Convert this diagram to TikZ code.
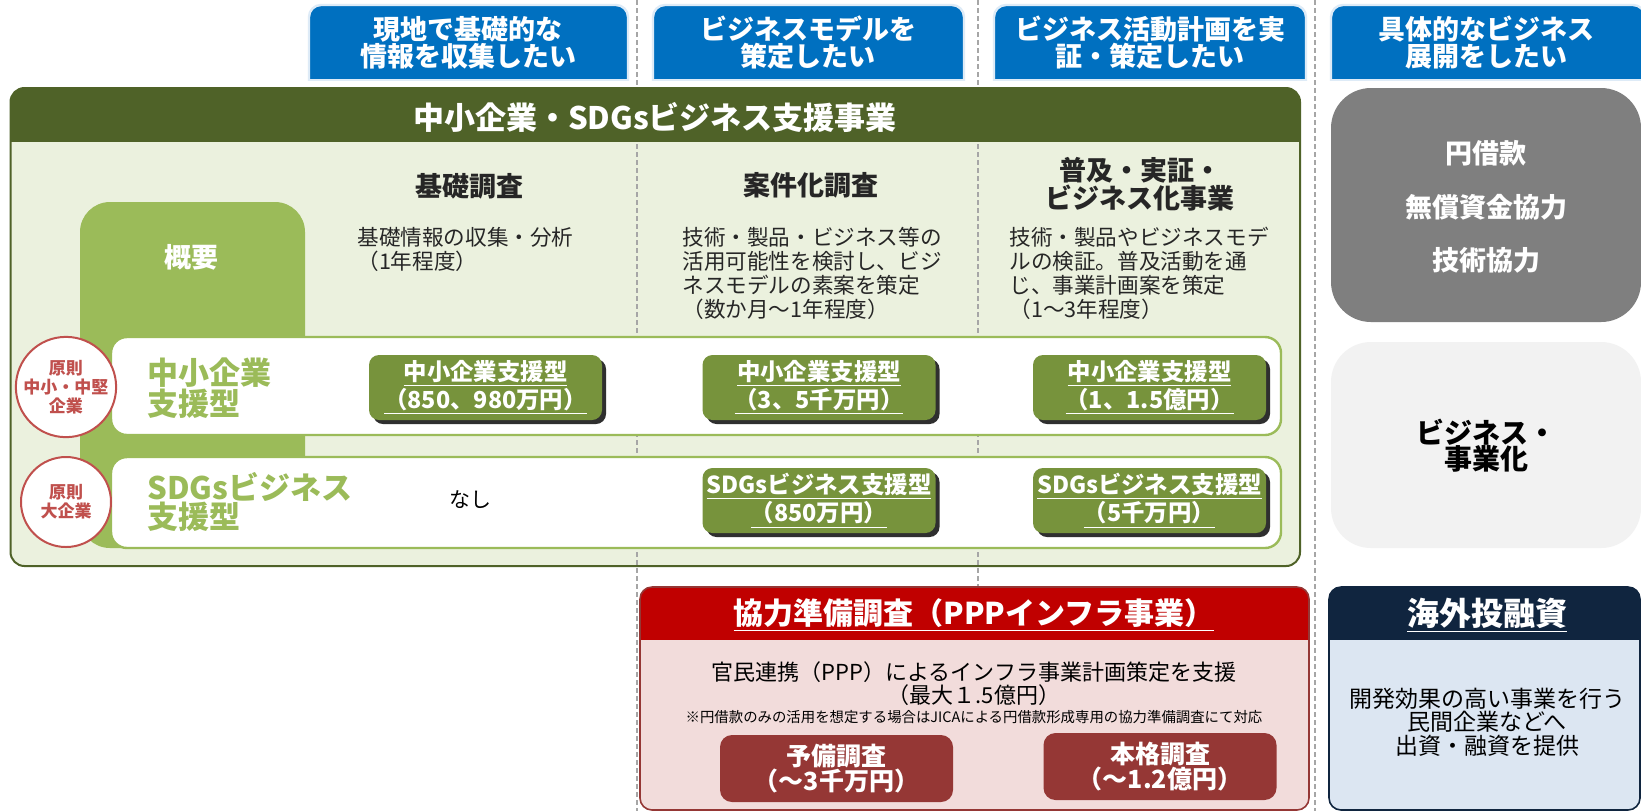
\documentclass[tikz,border=0pt]{standalone}
\usepackage{fontspec}
\setmainfont{Noto Sans CJK JP}
\usepackage{tikz}
\usetikzlibrary{shadows}

\definecolor{jicablue}{HTML}{0070C0}
\definecolor{wantline}{HTML}{DEEBF7}
\definecolor{sdghead}{HTML}{4F6228}
\definecolor{sdgbody}{HTML}{EBF1DE}
\definecolor{gaiyou}{HTML}{9BBB59}
\definecolor{btngreen}{HTML}{77933C}
\definecolor{circred}{HTML}{C0504D}
\definecolor{pppred}{HTML}{C00000}
\definecolor{ppppink}{HTML}{F2DCDB}
\definecolor{pppbox}{HTML}{953735}
\definecolor{navy}{HTML}{10253F}
\definecolor{navylight}{HTML}{DCE6F2}
\definecolor{darkgraybox}{HTML}{7F7F7F}
\definecolor{lightgraybox}{HTML}{F2F2F2}
\definecolor{headtext}{HTML}{262626}

\tikzset{
  wantbox/.style={fill=jicablue, draw=wantline, line width=1.2pt, rounded corners=6pt},
  wanttext/.style={text=white, font=\fontsize{13.5}{13.5}\selectfont\bfseries, align=center, inner sep=0pt},
  sepline/.style={draw=black!35, dash pattern=on 2.5pt off 1.5pt, line width=0.6pt},
  colhead/.style={text=headtext, font=\fontsize{13.5}{13}\selectfont\bfseries, align=center, inner sep=0pt},
  desc/.style={text=black!85, font=\fontsize{10.8}{12}\selectfont, align=left, inner sep=0pt, anchor=north west},
  typebtn/.style={fill=btngreen, rounded corners=5pt, minimum width=116.5pt, minimum height=32.5pt,
    text=white, font=\fontsize{11.7}{11.5}\selectfont\bfseries, align=center, inner sep=0pt,
    drop shadow={shadow xshift=2pt, shadow yshift=-2pt, opacity=.9, fill=black!90}},
  ruleball/.style={circle, draw=circred, line width=1pt, fill=white, minimum size=45pt, inner sep=0pt,
    text=circred, font=\fontsize{8.5}{9.5}\selectfont\bfseries, align=center},
  rowlabel/.style={text=gaiyou, font=\fontsize{15.5}{14.5}\selectfont\bfseries, align=left, inner sep=0pt, anchor=west},
  whitebold/.style={text=white, font=\fontsize{13.5}{13.5}\selectfont\bfseries, align=center, inner sep=0pt},
  pppbtn/.style={fill=pppbox, rounded corners=6pt, minimum width=116.5pt, minimum height=33.5pt,
    text=white, font=\fontsize{12.5}{12.5}\selectfont\bfseries, align=center, inner sep=0pt}
}

\begin{document}
\begin{tikzpicture}[x=0.5pt, y=-0.5pt]
  \useasboundingbox (0,0) rectangle (1641,811);
  \fill[white] (0,0) rectangle (1641,811);

  % SDGs main panel
  \begin{scope}
    \clip[rounded corners=7pt] (10.5,88) rectangle (1300,566);
    \fill[sdgbody] (10.5,88) rectangle (1300,566);
  \end{scope}

  \draw[sepline] (637,0) -- (637,811);
  \draw[sepline] (978,0) -- (978,587);
  \draw[sepline] (1315,0) -- (1315,811);

  \begin{scope}
    \clip[rounded corners=7pt] (10.5,88) rectangle (1300,566);
    \fill[sdghead] (10.5,88) rectangle (1300,142);
  \end{scope}
  \draw[sdghead, line width=1pt, rounded corners=7pt] (10.5,88) rectangle (1300,566);
  \node[whitebold, font=\fontsize{15.5}{15.5}\selectfont\bfseries] (sdgtitle) at (655,117) {中小企業・SDGsビジネス支援事業};

  % wants
  \begin{scope}
    \clip (0,0) rectangle (1641,80);
    \draw[wantbox] (309,5) rectangle (628,110);
    \draw[wantbox] (653,5) rectangle (964,110);
    \draw[wantbox] (994,5) rectangle (1306,110);
    \draw[wantbox] (1331,5) rectangle (1645,110);
  \end{scope}
  \draw[wantline, line width=1.2pt] (309,80) -- (628,80);
  \draw[wantline, line width=1.2pt] (653,80) -- (964,80);
  \draw[wantline, line width=1.2pt] (994,80) -- (1306,80);
  \draw[wantline, line width=1.2pt] (1331,80) -- (1641,80);
  \node[wanttext] (want1) at (468,43) {現地で基礎的な\\情報を収集したい};
  \node[wanttext] (want2) at (808,43) {ビジネスモデルを\\策定したい};
  \node[wanttext] (want3) at (1150,43) {ビジネス活動計画を実\\証・策定したい};
  \node[wanttext] (want4) at (1486,43) {具体的なビジネス\\展開をしたい};

  % column heads and outlines
  \node[colhead] (kiso) at (469,186) {基礎調査};
  \node[colhead] (anken) at (811,185) {案件化調査};
  \node[colhead] (fukyu) at (1140,184) {普及・実証・\\ビジネス化事業};

  \node[desc] (kisodesc) at (357,227) {基礎情報の収集・分析\\（1年程度）};
  \node[desc] (ankendesc) at (682,227) {技術・製品・ビジネス等の\\活用可能性を検討し、ビジ\\ネスモデルの素案を策定\\（数か月～1年程度）};
  \node[desc] (fukyudesc) at (1009,227) {技術・製品やビジネスモデ\\ルの検証。普及活動を通\\じ、事業計画案を策定\\（1～3年程度）};

  \fill[gaiyou, rounded corners=15pt] (80,202) rectangle (305,548);
  \node[whitebold] (gaiyou) at (191,257) {概要};

  \draw[gaiyou, line width=1.2pt, fill=white, rounded corners=8pt] (111,337) rectangle (1281,435);
  \draw[gaiyou, line width=1.2pt, fill=white, rounded corners=8pt] (111,457) rectangle (1281,548);

  \node[ruleball] (smeball) at (66,387) {原則\\中小・中堅\\企業};
  \node[ruleball] (bigball) at (66,502) {原則\\大企業};

  \node[rowlabel] (smerow) at (147,388) {中小企業\\支援型};
  \node[rowlabel] (sdgrow) at (147,502) {SDGsビジネス\\支援型};
  \node[inner sep=0pt, font=\fontsize{10.5}{10.5}\selectfont] (nashi) at (470,500) {なし};

  \node[typebtn] (smekiso) at (485.5,387.5) {\underline{中小企業支援型}\\\underline{（850、980万円）}};
  \node[typebtn] (smeanken) at (819,387.5) {\underline{中小企業支援型}\\\underline{（3、5千万円）}};
  \node[typebtn] (smefukyu) at (1149.5,387.5) {\underline{中小企業支援型}\\\underline{（1、1.5億円）}};
  \node[typebtn] (sdganken) at (819,500.5) {\underline{SDGsビジネス支援型}\\\underline{（850万円）}};
  \node[typebtn] (sdgfukyu) at (1149.5,500.5) {\underline{SDGsビジネス支援型}\\\underline{（5千万円）}};

  % right column
  \fill[darkgraybox, rounded corners=20pt] (1331,88) rectangle (1641,322);
  \node[whitebold] (yenloan) at (1486,153) {円借款};
  \node[whitebold] (grant) at (1486,207) {無償資金協力};
  \node[whitebold] (techcoop) at (1486,260) {技術協力};

  \fill[lightgraybox, rounded corners=20pt] (1331,342) rectangle (1641,548);
  \node[whitebold, text=black, font=\fontsize{14}{13}\selectfont\bfseries] (bizka) at (1486,446) {ビジネス・\\事業化};

  % PPP
  \begin{scope}
    \clip[rounded corners=6pt] (640,587) rectangle (1309,810);
    \fill[ppppink] (640,587) rectangle (1309,810);
    \fill[pppred] (640,587) rectangle (1309,640);
  \end{scope}
  \draw[pppbox, line width=0.8pt, rounded corners=6pt] (640,587) rectangle (1309,810);
  \node[whitebold, font=\fontsize{15}{15}\selectfont\bfseries] (ppptitle) at (974,615) {\underline{協力準備調査（PPPインフラ事業）}};
  \node[inner sep=0pt, font=\fontsize{11}{11}\selectfont] (pppmain) at (974,672) {官民連携（PPP）によるインフラ事業計画策定を支援};
  \node[inner sep=0pt, font=\fontsize{11}{11}\selectfont] (pppmax) at (974,695) {（最大１.5億円）};
  \node[inner sep=0pt, font=\fontsize{7.2}{7.2}\selectfont] (pppnote) at (974,717) {※円借款のみの活用を想定する場合はJICAによる円借款形成専用の協力準備調査にて対応};
  \node[pppbtn] (yobi) at (836.5,768.5) {予備調査\\（～3千万円）};
  \node[pppbtn] (honkaku) at (1160,766.5) {本格調査\\（～1.2億円）};

  % overseas investment
  \begin{scope}
    \clip[rounded corners=6pt] (1329,587) rectangle (1640,810);
    \fill[navylight] (1329,587) rectangle (1640,810);
    \fill[navy] (1329,587) rectangle (1640,640);
  \end{scope}
  \draw[navy, line width=0.8pt, rounded corners=6pt] (1329,587) rectangle (1640,810);
  \node[whitebold, font=\fontsize{16}{16}\selectfont\bfseries] (kaigai) at (1487,615) {\underline{海外投融資}};
  \node[inner sep=0pt, align=center, font=\fontsize{11.5}{11.75}\selectfont] (kaigaidesc) at (1487,722) {開発効果の高い事業を行う\\民間企業などへ\\出資・融資を提供};

\end{tikzpicture}
\end{document}
